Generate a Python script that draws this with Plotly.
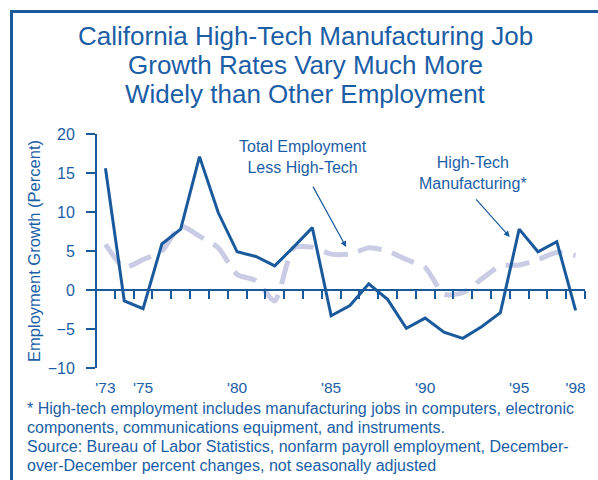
import plotly.graph_objects as go

years = list(range(1973, 1999))
yr = [y - 1900 for y in years]
high_tech = [15.6, -1.4, -2.4, 5.9, 7.8, 17.1, 9.9, 4.9, 4.3, 3.1, 5.5, 8.0,
             -3.3, -2.0, 0.8, -1.2, -4.9, -3.6, -5.4, -6.2, -4.7, -2.9,
             7.8, 4.9, 6.2, -2.6]
total_less_ht = [5.85, 2.9, 3.9, 5.0, 8.2, 6.9, 5.4, 2.0, 1.2, -1.4, 5.4, 5.5,
                 4.6, 4.6, 5.4, 5.0, 3.9, 2.9, -0.55, -0.35, 1.4, 3.1,
                 3.2, 3.9, 4.8, 4.4]
x_tick_vals = [73, 75, 80, 85, 90, 95, 98]
x_tick_text = ["'73", "'75", "'80", "'85", "'90", "'95", "'98"]
minor_ticks = [y + 0.5 for y in range(73, 99)]
y_ticks = [-10, -5, 0, 5, 10, 15, 20]

title_lines = ["California High-Tech Manufacturing Job",
               "Growth Rates Vary Much More",
               "Widely than Other Employment"]
note_lines = ["* High-tech employment includes manufacturing jobs in computers, electronic",
              "components, communications equipment, and instruments.",
              "Source: Bureau of Labor Statistics, nonfarm payroll employment, December-",
              "over-December percent changes, not seasonally adjusted"]

BLUE = "#1b5ea6"
LINE = "#1a5a9c"
LAV = "#c9cce4"
FONT = "Liberation Sans, Arial, sans-serif"

fig = go.Figure()
fig.add_trace(go.Scatter(x=yr, y=total_less_ht, mode="lines",
                         line=dict(color=LAV, width=5, dash="24px,11px", shape="spline", smoothing=0.6),
                         xaxis="x", yaxis="y", hoverinfo="skip"))
fig.add_trace(go.Scatter(x=yr, y=high_tech, mode="lines",
                         line=dict(color=LINE, width=3),
                         xaxis="x", yaxis="y", hoverinfo="skip"))

XR = [72.55, 98.5]
fig.update_layout(
    width=598, height=480,
    margin=dict(l=97, r=13, t=134, b=112),
    paper_bgcolor="white", plot_bgcolor="white",
    showlegend=False,
    font=dict(family=FONT, color=BLUE, size=15),
    xaxis=dict(range=XR, tickmode="array", tickvals=x_tick_vals, ticktext=x_tick_text,
               showline=False, showgrid=False, zeroline=False, ticks="",
               ticklabelstandoff=8, tickfont=dict(size=15.5, color=BLUE)),
    xaxis2=dict(range=XR, overlaying="x", anchor="free", position=1/3,
                tickmode="array", tickvals=minor_ticks, showticklabels=False,
                ticks="outside", ticklen=8, tickwidth=2, tickcolor=LINE,
                showline=True, linecolor=LINE, linewidth=2,
                showgrid=False, zeroline=False),
    yaxis=dict(range=[-10, 20], tickmode="array", tickvals=y_ticks,
               showline=True, linecolor=LINE, linewidth=2,
               ticks="outside", ticklen=9, tickwidth=2, tickcolor=LINE,
               showgrid=False, zeroline=False, ticklabelstandoff=8,
               tickfont=dict(size=16, color=BLUE),
               title=dict(text="Employment Growth (Percent)", standoff=3,
                          font=dict(size=16.5, color=BLUE))),
)
# invisible trace to activate xaxis2
fig.add_trace(go.Scatter(x=[XR[0]], y=[0], xaxis="x2", yaxis="y", mode="markers",
                         marker=dict(opacity=0), hoverinfo="skip"))

# pixel -> paper helpers (plot area: x 97..585, y 134..368)
def px_x(p):
    return (p - 97) / 488
def px_y(p):
    return (368 - p) / 234

# frame (decorative border)
fig.add_shape(type="rect", xref="paper", yref="paper", x0=px_x(11.5), x1=px_x(620),
              y0=px_y(11.5), y1=px_y(500), line=dict(color=LINE, width=3), fillcolor="rgba(0,0,0,0)")

for i, t in enumerate(title_lines):
    fig.add_annotation(x=px_x(305.5), y=px_y(36 + 29 * i), xref="paper", yref="paper",
                       xanchor="center", yanchor="middle", text=t, showarrow=False,
                       font=dict(size=26, color=BLUE))

fig.add_annotation(x=83.5, y=17.05, xref="x", yref="y", text="Total Employment<br>Less High-Tech",
                   showarrow=False, font=dict(size=16, color=BLUE))
fig.add_annotation(x=85.8, y=5.5, xref="x", yref="y", ax=-34, ay=-62, text="",
                   showarrow=True, arrowhead=2, arrowsize=1, arrowwidth=1.2, arrowcolor=LINE)
fig.add_annotation(x=92.55, y=15.0, xref="x", yref="y", text="High-Tech<br>Manufacturing*",
                   showarrow=False, font=dict(size=16, color=BLUE))
fig.add_annotation(x=94.5, y=6.8, xref="x", yref="y", ax=-35, ay=-39, text="",
                   showarrow=True, arrowhead=2, arrowsize=1, arrowwidth=1.2, arrowcolor=LINE)

for i, t in enumerate(note_lines):
    fig.add_annotation(x=px_x(25), y=px_y(408 + 19 * i), xref="paper", yref="paper",
                       xanchor="left", yanchor="middle", align="left", showarrow=False,
                       text=t, font=dict(size=16, color=BLUE))

fig.write_html("out.html", config={"displayModeBar": False},
               post_script="document.body.style.margin='0';document.body.style.overflow='hidden';")
